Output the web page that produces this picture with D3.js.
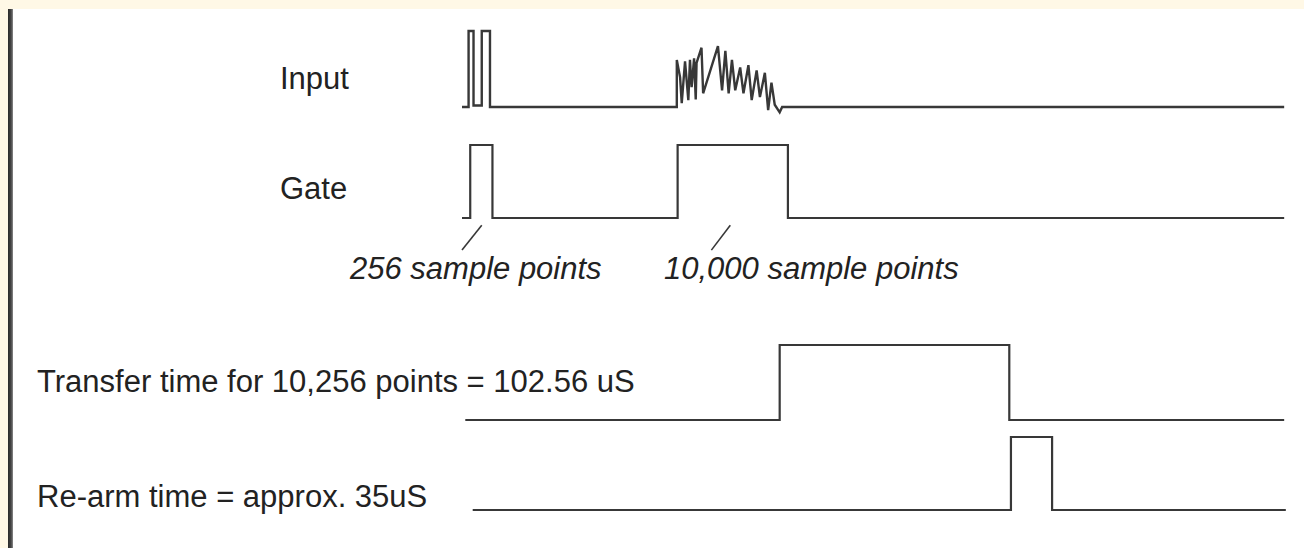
<!DOCTYPE html>
<html>
<head>
<meta charset="utf-8">
<script src="https://cdn.jsdelivr.net/npm/d3@7"></script>
<style>
  html, body { margin: 0; padding: 0; background: #fff8e6; }
  svg { display: block; }
</style>
</head>
<body>
<script>
// time runs 0..1000 (arbitrary units) across the waveform area
// each row is a list of [time, level] points, level 0 = low, 1 = high

var inputWave = [
  [0,0],[8,0],[8,1],[14,1],[14,0.02],[24,0.02],[24,1],[34,1],[34,0],
  [261,0],[261,0.62],[265,0.39],[267,0.05],[271,0.6],[275,0.09],[277,0.62],
  [279,0.26],[282,0.64],[284,0.1],[285,0.58],[291,0.78],[293,0.18],[311,0.8],
  [316,0.22],[320,0.74],[324,0.18],[328,0.62],[332,0.22],[338,0.52],[342,0.18],
  [348,0.55],[352,0.09],[358,0.48],[362,0.13],[368,0.45],[372,-0.04],[376,0.32],
  [380,0.03],[386,-0.07],[389,0],[999,0]
];
var gateWave = [[0,0],[10,0],[10,1],[37,1],[37,0],[262,0],[262,1],[396,1],[396,0],[999,0]];
var transferWave = [[4,0],[386,0],[386,1],[665,1],[665,0],[999,0]];
var rearmWave = [[13,0],[667,0],[667,1],[717,1],[717,0],[1001,0]];

var rowNames = ["Input", "Gate", "Transfer time for 10,256 points = 102.56 uS", "Re-arm time = approx. 35uS"];
var rowWaves = [inputWave, gateWave, transferWave, rearmWave];

// little slash marks under the gate pulses, [time, level] pairs
var markTicks = [[[24,-0.1],[0,-0.44]], [[326,-0.1],[303,-0.44]]];
var markLabels = ["256 sample points", "10,000 sample points"];

var W = 1304, H = 548;

var svg = d3.select("body").append("svg")
        .attr("width", W)
        .attr("height", H);

// white panel with a dark left edge
svg.append("rect").attr("x", 13).attr("y", 9).attr("width", W - 13).attr("height", H - 9).attr("fill", "#ffffff");
var grad = svg.append("defs").append("linearGradient").attr("id", "edge");
grad.append("stop").attr("offset", "0%").attr("stop-color", "#2a2a2a");
grad.append("stop").attr("offset", "60%").attr("stop-color", "#444");
grad.append("stop").attr("offset", "100%").attr("stop-color", "#8a8a8a");
svg.append("rect").attr("x", 8).attr("y", 9).attr("width", 5).attr("height", H - 9).attr("fill", "url(#edge)");

var x = d3.scaleLinear().domain([0, 1000]).range([462, 1285]);

// per-row vertical scales: [low y, high y]
var rowY = [[107, 31], [218, 145], [420, 345], [510, 437]];
var yScales = rowY.map(function(r){ return d3.scaleLinear().domain([0, 1]).range(r); });

var ink = "#383838";

rowWaves.forEach(function(wave, i){
  var line = d3.line()
        .x(function(d){ return x(d[0]); })
        .y(function(d){ return yScales[i](d[1]); });
  svg.append("path")
        .datum(wave)
        .attr("d", line)
        .attr("fill", "none")
        .attr("stroke", ink)
        .attr("stroke-width", i == 0 ? 2.4 : 2.2)
        .attr("stroke-linejoin", "miter");
});

// labels on the left
var labelPos = [[280, 89], [280, 199], [37, 392], [37, 507]];
svg.selectAll("text.row")
        .data(rowNames)
        .enter().append("text")
                .attr("class", "row")
                .attr("x", function(d,i){ return labelPos[i][0]; })
                .attr("y", function(d,i){ return labelPos[i][1]; })
                .attr("font-family", "Liberation Sans, Arial, sans-serif")
                .attr("font-size", 31)
                .attr("fill", "#222")
                .text(function(d){ return d; });

// slash marks and italic notes under the gate
var markLine = d3.line()
        .x(function(d){ return x(d[0]); })
        .y(function(d){ return yScales[1](d[1]); });
svg.selectAll("path.tick")
        .data(markTicks)
        .enter().append("path")
                .attr("class", "tick")
                .attr("d", markLine)
                .attr("stroke", ink)
                .attr("stroke-width", 1.6)
                .attr("fill", "none");

var notePos = [[350, 279], [664, 279]];
svg.selectAll("text.note")
        .data(markLabels)
        .enter().append("text")
                .attr("class", "note")
                .attr("x", function(d,i){ return notePos[i][0]; })
                .attr("y", function(d,i){ return notePos[i][1]; })
                .attr("font-family", "Liberation Sans, Arial, sans-serif")
                .attr("font-style", "italic")
                .attr("font-size", 31)
                .attr("fill", "#222")
                .text(function(d){ return d; });
</script>
</body>
</html>
